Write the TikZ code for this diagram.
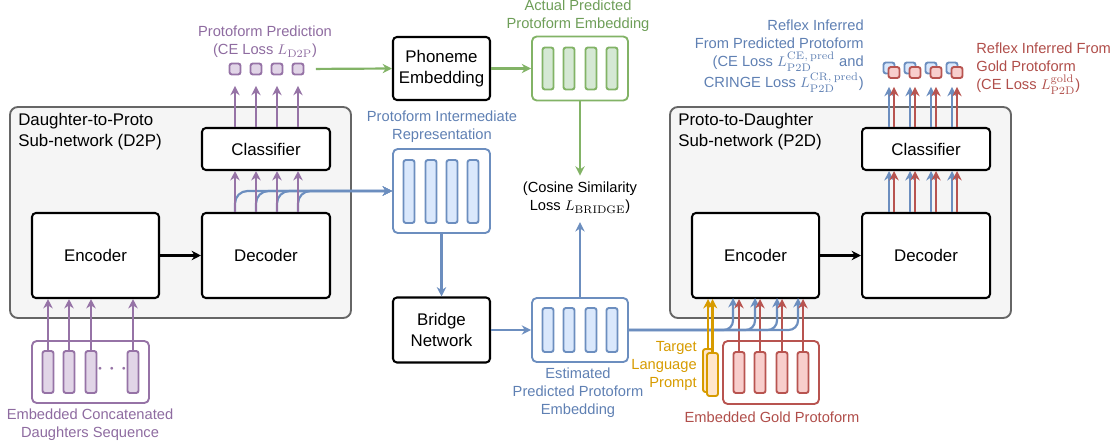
\documentclass[tikz,border=0pt]{standalone}
\usepackage[no-math]{fontspec}
\setmainfont{Liberation Sans}
\usetikzlibrary{arrows.meta, positioning}

\definecolor{purpleline}{HTML}{9673A6}
\definecolor{purplefill}{HTML}{E1D5E7}
\definecolor{purpletext}{HTML}{8E6BA0}
\definecolor{blueline}{HTML}{6C8EBF}
\definecolor{bluefill}{HTML}{DAE8FC}
\definecolor{bluetext}{HTML}{5F80B3}
\definecolor{greenline}{HTML}{82B366}
\definecolor{greenfill}{HTML}{D5E8D4}
\definecolor{greentext}{HTML}{6E9E58}
\definecolor{redline}{HTML}{B85450}
\definecolor{redfill}{HTML}{F8CECC}
\definecolor{redtext}{HTML}{B04E4A}
\definecolor{yellowline}{HTML}{D79B00}
\definecolor{yellowfill}{HTML}{FFE6CC}
\definecolor{groupline}{HTML}{666666}
\definecolor{groupfill}{HTML}{F5F5F5}

\newcommand{\boxfont}{\fontsize{10.8}{13.4}\selectfont}
\newcommand{\labfont}{\fontsize{9.4}{11.5}\selectfont}
\newcommand{\dotsfont}{\fontsize{17}{17}\selectfont}

\begin{document}
\begin{tikzpicture}[x=0.0225cm, y=-0.0225cm,
    box size/.style 2 args={minimum width=#1*0.0225cm, minimum height=#2*0.0225cm},
    group/.style={draw=groupline, fill=groupfill, line width=1.2pt, rounded corners=5pt, inner sep=0pt},
    block/.style={draw, line width=1.3pt, rounded corners=2.5pt, fill=white, inner sep=0pt, align=center, font=\boxfont},
    embbox/.style={draw=#1line, fill=white, line width=1.2pt, rounded corners=3pt, inner sep=0pt},
    bar/.style={draw=#1line, fill=#1fill, line width=1.2pt, rounded corners=1.5pt, inner sep=0pt},
    token/.style={draw=#1line, fill=#1fill, line width=1.2pt, rounded corners=1.5pt, inner sep=0pt, box size={11}{11}},
    lab/.style={font=\labfont, align=center, inner sep=0pt},
    arr/.style={-{Stealth[length=6pt, width=6pt]}, line width=1.4pt},
  ]
  \useasboundingbox (0,0) rectangle (1118,448);

  % sub-networks
  \node (d2p) at (180.5,212.5) [group, box size={341}{211}] {};
  \node (d2ptitle) at (18,113) [anchor=north west, align=left, inner sep=0pt, font=\boxfont] {Daughter-to-Proto\\Sub-network (D2P)};
  \node (d2pcls) at (266,149) [block, box size={128}{42}] {Classifier};
  \node (d2penc) at (95.5,255.5) [block, box size={127}{85}] {Encoder};
  \node (d2pdec) at (266,255.5) [block, box size={128}{85}] {Decoder};

  \node (p2d) at (840.5,212.5) [group, box size={341}{211}] {};
  \node (p2dtitle) at (678,113) [anchor=north west, align=left, inner sep=0pt, font=\boxfont] {Proto-to-Daughter\\Sub-network (P2D)};
  \node (p2dcls) at (926,149) [block, box size={128}{42}] {Classifier};
  \node (p2denc) at (755.5,255.5) [block, box size={127}{85}] {Encoder};
  \node (p2ddec) at (926,255.5) [block, box size={128}{85}] {Decoder};

  \draw[arr] (d2penc) -- (d2pdec);
  \draw[arr] (p2denc) -- (p2ddec);

  % middle column
  \node (phoneme) at (441.5,68.5) [block, box size={97}{63}] {Phoneme\\Embedding};
  \node (bridge) at (441.5,330) [block, box size={97}{65}] {Bridge\\Network};
  \node (actual) at (580,68.5) [embbox=green, box size={96}{64}] {};
  \node (inter) at (441.5,191) [embbox=blue, box size={97}{84}] {};
  \node (estim) at (580,330) [embbox=blue, box size={96}{64}] {};
  \foreach \x [count=\i] in {548,569,591,612} {
    \node (ab\i) at (\x,68.5) [bar=green, box size={11}{42}] {};
    \node (eb\i) at (\x,330) [bar=blue, box size={11}{44}] {};
  }
  \foreach \x [count=\i] in {409,431,452,473}
    \node (ib\i) at (\x,191.5) [bar=blue, box size={11}{63}] {};

  \node (actuallab) at (578,16) [lab, text=greentext] {Actual Predicted\\Protoform Embedding};
  \node (interlab) at (442,127) [lab, text=bluetext] {Protoform Intermediate\\Representation};
  \node (cosine) at (580,198) [lab] {(Cosine Similarity\\Loss $L_{\mathrm{BRIDGE}}$)};
  \node (estimlab) at (578,393) [lab, text=bluetext] {Estimated\\Predicted Protoform\\Embedding};

  % inputs
  \node (daughters) at (90.5,372) [embbox=purple, box size={117}{62}] {};
  \foreach \x [count=\i] in {48,69,91,133}
    \node (db\i) at (\x,372) [bar=purple, box size={11}{42}] {};
  \node (dots) at (112,369) [inner sep=0pt, text=purpleline, font=\dotsfont] {$\cdots$};
  \node (daughterslab) at (90,425) [lab, text=purpletext] {Embedded Concatenated\\Daughters Sequence};

  \node (gold) at (771,372.5) [embbox=red, box size={96}{63}] {};
  \foreach \x [count=\i] in {739,760,782,803}
    \node (gb\i) at (\x,372.5) [bar=red, box size={11}{41}] {};
  \node (goldlab) at (772,417) [lab, text=redtext] {Embedded Gold Protoform};

  \node (prompt1) at (708,370.5) [bar=yellow, box size={10}{43}] {};
  \node (prompt2) at (712.5,374.5) [bar=yellow, box size={11}{43}] {};
  \node (promptlab) at (697,366) [lab, anchor=east, align=right, text=yellowline] {Target\\Language\\Prompt};

  % outputs
  \foreach \x [count=\i] in {235,256,277,298}
    \node (po\i) at (\x,69) [token=purple] {};
  \node (predlab) at (265,42) [lab, text=purpletext] {Protoform Prediction\\(CE Loss $L_{\mathrm{D2P}}$)};

  \foreach \x [count=\i] in {894,915,936,957} {
    \node (bo\i) at (\x-5,68) [token=blue] {};
    \node (ro\i) at (\x,72.5) [token=red] {};
  }
  \node (reflexpred) at (864,56) [lab, anchor=east, align=right, text=bluetext] {Reflex Inferred\\From Predicted Protoform\\(CE Loss $L^{\mathrm{CE,\,pred}}_{\mathrm{P2D}}$ and\\CRINGE Loss $L^{\mathrm{CR,\,pred}}_{\mathrm{P2D}}$)};
  \node (reflexgold) at (976,69) [lab, anchor=west, align=left, text=redtext] {Reflex Inferred From\\Gold Protoform\\(CE Loss $L^{\mathrm{gold}}_{\mathrm{P2D}}$)};

  % D2P connections
  \foreach \i in {1,...,4} {
    \draw[arr, blueline, rounded corners=8pt] (d2pdec.north -| po\i) |- (inter.west);
    \draw[arr, purpleline] (d2pdec.north -| po\i) -- (d2pcls.south -| po\i);
    \draw[arr, purpleline, shorten >=0.236cm] (d2pcls.north -| po\i) -- (po\i.south);
    \draw[arr, purpleline] (db\i.north) -- (d2penc.south -| db\i.north);
  }
  \draw[arr, greenline, shorten <=0.26cm] (po4.east) -- (phoneme.west);
  \draw[arr, greenline] (phoneme.east) -- (actual.west);
  \draw[arr, greenline, shorten >=0.14cm] (actual.south) -- (cosine.north);
  \draw[arr, blueline] (inter.south) -- (bridge.north);
  \draw[arr, blueline] (bridge.east) -- (estim.west);
  \draw[arr, blueline, shorten >=0.18cm] (estim.north) -- (cosine.south);

  % P2D connections
  \foreach \x [count=\i] in {733,755,777,798} {
    \coordinate (bin\i) at (\x,298);
    \draw[arr, blueline, rounded corners=6pt] (estim.east) -| (bin\i);
    \draw[arr, redline] (gb\i.north) -- (p2denc.south -| gb\i.north);
  }
  \draw[arr, yellowline] (prompt1.north) -- (p2denc.south -| prompt1.north);
  \draw[arr, yellowline] (prompt2.north) -- (p2denc.south -| prompt2.north);
  \foreach \i in {1,...,4} {
    \draw[arr, blueline] (p2ddec.north -| bo\i) -- (p2dcls.south -| bo\i);
    \draw[arr, redline] (p2ddec.north -| ro\i) -- (p2dcls.south -| ro\i);
    \draw[arr, blueline, shorten >=0.28cm] (p2dcls.north -| bo\i) -- (bo\i.south);
    \draw[arr, redline, shorten >=0.18cm] (p2dcls.north -| ro\i) -- (ro\i.south);
  }
\end{tikzpicture}
\end{document}
